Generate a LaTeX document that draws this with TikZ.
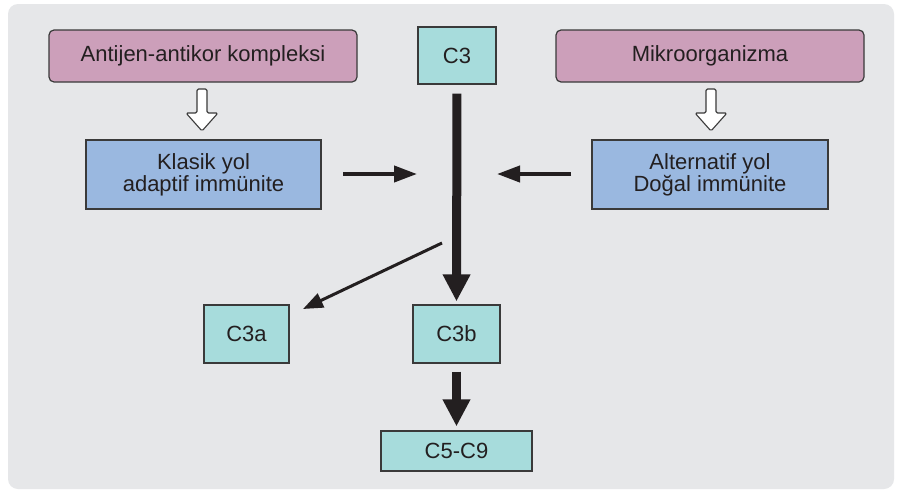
\documentclass[tikz,border=0pt]{standalone}
\usepackage{fontspec}
\setmainfont{Liberation Sans}
\usetikzlibrary{arrows.meta}
\definecolor{bgpanel}{HTML}{E6E7E9}
\definecolor{pinkbox}{HTML}{CC9FBA}
\definecolor{cyanbox}{HTML}{A7DCDC}
\definecolor{bluebox}{HTML}{9AB8E0}
\definecolor{inkc}{HTML}{231F20}
\definecolor{edgec}{HTML}{3A3A3A}
\tikzset{
  boxbase/.style={draw=edgec, line width=1.2pt, inner sep=0pt, text=inkc,
    font=\fontsize{22}{22}\selectfont, align=center},
  pinkbx/.style={boxbase, fill=pinkbox, rounded corners=5pt},
  cyanbx/.style={boxbase, fill=cyanbox},
  bluebx/.style={boxbase, fill=bluebox},
  thickarr/.style={line width=9pt, draw=inkc, -{Triangle[width=26pt,length=27pt]}},
  medarr/.style={line width=4pt, draw=inkc, -{Triangle[width=16pt,length=23pt]}},
  thinarr/.style={line width=3pt, draw=inkc, -{Triangle[width=15pt,length=20pt]}},
  openarr/.style={draw=edgec, line width=1.1pt, fill=white, rounded corners=1.5pt, line join=round}
}
\begin{document}
\begin{tikzpicture}[x=1pt,y=-1pt]
\useasboundingbox (0,0) rectangle (898,493);
\fill[white] (0,0) rectangle (898,493);
\fill[bgpanel, rounded corners=10pt] (8,4) rectangle (894,489);

\node[pinkbx, minimum width=308pt, minimum height=52pt] (ag) at (203,56) {Antijen-antikor kompleksi};
\node[pinkbx, minimum width=308pt, minimum height=52pt] (mo) at (710,56) {Mikroorganizma};
\node[cyanbx, minimum width=78pt, minimum height=57pt] (c3) at (457,55.5) {C3};
\node[bluebx, minimum width=235pt, minimum height=69pt] (kl) at (203.5,174.5) {Klasik yol\\adaptif immünite};
\node[bluebx, minimum width=236pt, minimum height=69pt] (al) at (710,174.5) {Alternatif yol\\Doğal immünite};
\node[cyanbx, minimum width=85pt, minimum height=58pt] (c3a) at (246.5,334) {C3a};
\node[cyanbx, minimum width=87pt, minimum height=58pt] (c3b) at (456.5,334) {C3b};
\node[cyanbx, minimum width=151pt, minimum height=40pt] (c59) at (456.5,451) {C5-C9};

% open arrows
\foreach \cx in {202, 711}{
  \draw[openarr] (\cx-5,113) -- (\cx-5,89) -- (\cx+5,89) -- (\cx+5,113) -- (\cx+16,113)
    -- (\cx,131) -- (\cx-16,113) -- cycle;
}

% connectors
\coordinate (kle) at (343,174);
\coordinate (kltip) at (417,174);
\coordinate (ale) at (571,174);
\coordinate (altip) at (497,174);
\coordinate (dg) at (442,243);
\coordinate (dgtip) at (303,309);

\draw[thickarr, shorten <=9pt, shorten >=3pt] (c3.south) -- (c3b.north);
\draw[thickarr, shorten <=8pt, shorten >=4pt] (c3b.south) -- (c59.north);
\draw[medarr] (kle) -- (kltip);
\draw[medarr] (ale) -- (altip);
\draw[thinarr] (dg) -- (dgtip);
\end{tikzpicture}
\end{document}
